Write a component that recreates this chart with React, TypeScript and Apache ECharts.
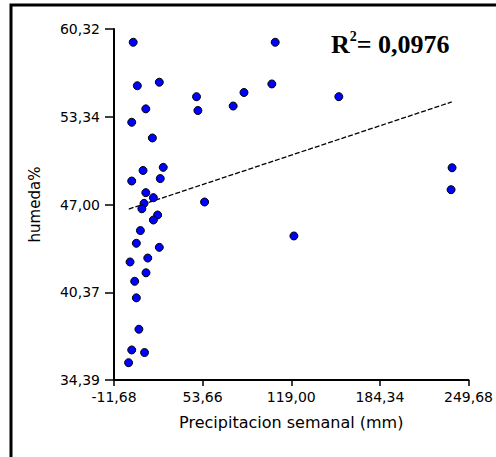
import React, { useEffect, useRef } from "react";
import * as echarts from "echarts";

// Tick values (axis positions) and printed labels
const xTickValues = [-11.68, 53.66, 119.0, 184.34, 249.68];
const xTickLabels = ["-11,68", "53,66", "119,00", "184,34", "249,68"];
const yTickValues = [34.39, 40.8725, 47.355, 53.8375, 60.32];
const yTickLabels = ["34,39", "40,37", "47,00", "53,34", "60,32"];

// Weekly precipitation (mm) and humidity (%)
const precipitation = [
  2.48, 5.53, 21.72, 49.16, 50.17, 11.77, 1.39, 16.63, 76.17, 84.15,
  107.17, 104.7, 154.07, 237.56, 236.83, 120.96, 9.74, 24.62, 1.39, 22.44,
  11.77, 17.36, 10.46, 55.11, 8.87, 20.48, 17.36, 7.78, 4.8, 21.72,
  0.15, 13.22, 11.92, 3.57, 4.8, 6.69, 1.39, 10.83, -0.93,
];
const humidity = [
  59.34, 56.13, 56.39, 55.32, 54.3, 54.42, 53.43, 52.27, 54.63, 55.63,
  59.34, 56.26, 55.32, 50.07, 48.45, 45.03, 49.87, 50.1, 49.09, 49.27,
  48.23, 47.86, 47.44, 47.54, 47.04, 46.58, 46.21, 45.43, 44.49, 44.19,
  43.11, 43.4, 42.31, 41.68, 40.46, 38.14, 36.61, 36.42, 35.67,
];

// Linear trend line end points
const trendX = [-0.79, 237.3];
const trendY = [47.02, 54.93];

const rSquaredText = "0,0976";

function labelFor(values: number[], labels: string[], v: number) {
  let best = 0;
  for (let i = 1; i < values.length; i++) {
    if (Math.abs(values[i] - v) < Math.abs(values[best] - v)) best = i;
  }
  return labels[best];
}

export default function App() {
  const ref = useRef<HTMLDivElement>(null);
  useEffect(() => {
    if (!ref.current) return;
    const chart = echarts.init(ref.current, null, { renderer: "svg" });
    const font = "'DejaVu Sans', Verdana, sans-serif";
    const serif = "'Liberation Serif', 'Times New Roman', serif";
    chart.setOption({
      animation: false,
      backgroundColor: "#ffffff",
      grid: { left: 114, right: 22, top: 29, bottom: 77, containLabel: false },
      xAxis: {
        type: "value",
        min: -11.68,
        max: 249.68,
        name: "Precipitacion semanal (mm)",
        nameLocation: "middle",
        nameGap: 34,
        nameTextStyle: { color: "#000", fontSize: 16, fontFamily: font },
        axisLine: { show: true, onZero: false, lineStyle: { color: "#000", width: 2 } },
        axisTick: {
          show: true,
          customValues: xTickValues,
          length: 6,
          lineStyle: { color: "#000", width: 1.5 },
        },
        axisLabel: {
          customValues: xTickValues,
          margin: 10,
          color: "#000",
          fontSize: 14,
          fontFamily: font,
          formatter: (v: number) => labelFor(xTickValues, xTickLabels, v),
        },
        splitLine: { show: false },
      },
      yAxis: {
        type: "value",
        min: 34.39,
        max: 60.32,
        name: "humeda%",
        nameLocation: "middle",
        nameGap: 72,
        nameTextStyle: { color: "#000", fontSize: 15, fontFamily: font },
        axisLine: { show: true, onZero: false, lineStyle: { color: "#000", width: 2 } },
        axisTick: {
          show: true,
          customValues: yTickValues,
          length: 9,
          lineStyle: { color: "#000", width: 1.5 },
        },
        axisLabel: {
          customValues: yTickValues,
          margin: 14,
          color: "#000",
          fontSize: 14,
          fontFamily: font,
          formatter: (v: number) => labelFor(yTickValues, yTickLabels, v),
        },
        splitLine: { show: false },
      },
      series: [
        {
          type: "line",
          data: trendX.map((x, i) => [x, trendY[i]]),
          symbol: "none",
          lineStyle: { color: "#000", width: 1.3, type: [5, 2] },
          silent: true,
          z: 1,
        },
        {
          type: "scatter",
          data: precipitation.map((x, i) => [x, humidity[i]]),
          symbol: "circle",
          symbolSize: 8,
          itemStyle: { color: "#0000ff", borderColor: "#000", borderWidth: 1, opacity: 1 },
          z: 2,
        },
      ],
      graphic: [
        {
          type: "rect",
          shape: { x: 11, y: 5, width: 1000, height: 1000 },
          style: { fill: "none", stroke: "#000", lineWidth: 3 },
          silent: true,
        },
        {
          type: "text",
          left: 331,
          top: 29,
          style: {
            text: "{r|R}{s|2}{r|= " + rSquaredText + "}",
            rich: {
              r: {
                fontSize: 26,
                fontWeight: "bold",
                fontFamily: serif,
                fill: "#000",
                lineHeight: 28,
                verticalAlign: "bottom",
              },
              s: {
                fontSize: 14,
                fontWeight: "bold",
                fontFamily: serif,
                fill: "#000",
                lineHeight: 28,
                verticalAlign: "top",
              },
            },
          },
        },
      ],
    });
    return () => chart.dispose();
  }, []);
  return (
    <div
      ref={ref}
      style={{ position: "absolute", left: 0, top: 0, width: 496, height: 457 }}
    />
  );
}
